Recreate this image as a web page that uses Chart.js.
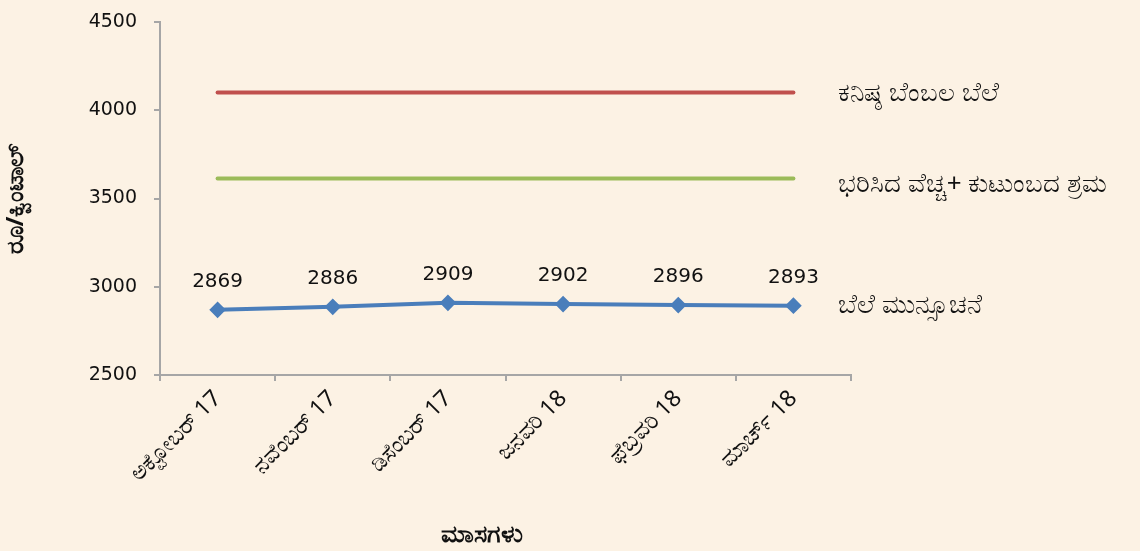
<!DOCTYPE html>
<html>
<head>
<meta charset="utf-8">
<script src="https://cdn.jsdelivr.net/npm/chart.js@4.4.1/dist/chart.umd.min.js"></script>
<style>
  html, body { margin: 0; padding: 0; background: #fcf2e4; }
  #wrap { width: 1140px; height: 551px; }
</style>
</head>
<body>
<div id="wrap"><canvas id="priceChart" width="1140" height="551"></canvas></div>
<script>
const months = ['ಅಕ್ಟೋಬರ್ 17', 'ನವೆಂಬರ್ 17', 'ಡಿಸೆಂಬರ್ 17', 'ಜನವರಿ 18', 'ಫೆಬ್ರವರಿ 18', 'ಮಾರ್ಚ್ 18'];
const msp = [4100, 4100, 4100, 4100, 4100, 4100];
const costPlusLabour = [3614, 3614, 3614, 3614, 3614, 3614];
const forecast = [2869, 2886, 2909, 2902, 2896, 2893];
const seriesNames = ['ಕನಿಷ್ಠ ಬೆಂಬಲ ಬೆಲೆ', 'ಭರಿಸಿದ ವೆಚ್ಚ+ ಕುಟುಂಬದ ಶ್ರಮ', 'ಬೆಲೆ ಮುನ್ಸೂಚನೆ'];
const yTicks = [2500, 3000, 3500, 4000, 4500];
const xTitle = 'ಮಾಸಗಳು';

const numFont = 'DejaVu Sans';
const knFont = '"Noto Sans", sans-serif';
const axisGrey = '#a6a6a6';

// value labels above the blue points, legend text beside each line, x axis title
const labelsPlugin = {
  id: 'labelsPlugin',
  afterDatasetsDraw(chart) {
    const ctx = chart.ctx;
    ctx.save();
    ctx.fillStyle = '#111';
    ctx.textAlign = 'center';
    ctx.textBaseline = 'middle';
    ctx.font = '20px ' + numFont;
    const pts = chart.getDatasetMeta(2).data;
    pts.forEach((p, i) => {
      ctx.fillText(String(forecast[i]), p.x, p.y - 28);
    });

    ctx.font = 'bold 25px ' + knFont;
    const area = chart.chartArea;
    ctx.fillText(xTitle, (area.left + area.right) / 2 - 24, 535);

    ctx.textAlign = 'left';
    ctx.font = '26px ' + knFont;
    const yScale = chart.scales.y;
    const lastVals = [msp[msp.length - 1], costPlusLabour[costPlusLabour.length - 1], forecast[forecast.length - 1]];
    const nudge = [1, 6, 0];
    lastVals.forEach((v, i) => {
      ctx.fillText(seriesNames[i], 838, yScale.getPixelForValue(v) + nudge[i]);
    });
    ctx.restore();
  }
};

new Chart(document.getElementById('priceChart'), {
  type: 'line',
  data: {
    labels: months,
    datasets: [
      {
        label: seriesNames[0],
        data: msp,
        borderColor: '#c0504d',
        borderWidth: 4,
        pointRadius: 0,
        borderCapStyle: 'round'
      },
      {
        label: seriesNames[1],
        data: costPlusLabour,
        borderColor: '#9bbb59',
        borderWidth: 4,
        pointRadius: 0,
        borderCapStyle: 'round'
      },
      {
        label: seriesNames[2],
        data: forecast,
        borderColor: '#4a7ebb',
        backgroundColor: '#4a7ebb',
        borderWidth: 4,
        pointStyle: 'rectRot',
        pointRadius: 5.5,
        pointHoverRadius: 5.5
      }
    ]
  },
  options: {
    responsive: false,
    animation: false,
    layout: { padding: { top: 22, right: 289, left: 2, bottom: 2 } },
    plugins: {
      legend: { display: false },
      tooltip: { enabled: false }
    },
    scales: {
      x: {
        offset: true,
        grid: { offset: true, drawOnChartArea: false, drawTicks: true, tickLength: 6, color: axisGrey, lineWidth: 2 },
        border: { color: axisGrey, width: 2 },
        ticks: { color: '#111', font: { family: knFont, size: 23 }, minRotation: 45, maxRotation: 45, padding: 4 },
        afterFit(scale) { scale.height = 174; }
      },
      y: {
        min: yTicks[0],
        max: yTicks[yTicks.length - 1],
        afterBuildTicks(scale) { scale.ticks = yTicks.map(v => ({ value: v })); },
        grid: { drawOnChartArea: false, drawTicks: true, tickLength: 6, color: axisGrey, lineWidth: 2 },
        border: { color: axisGrey, width: 2 },
        ticks: { color: '#111', font: { family: numFont, size: 19 }, padding: 17, callback: v => String(v) },
        title: { display: true, text: 'ರೂ/ಕ್ವಿಂಟಾಲ್', color: '#111', font: { family: knFont, size: 24, weight: 'bold' }, padding: { top: 0, bottom: 28 } },
        afterFit(scale) {
          scale.width = 158;
          scale.paddingTop = 0;
          scale.paddingBottom = 0;
        }
      }
    }
  },
  plugins: [labelsPlugin]
});
</script>
</body>
</html>
